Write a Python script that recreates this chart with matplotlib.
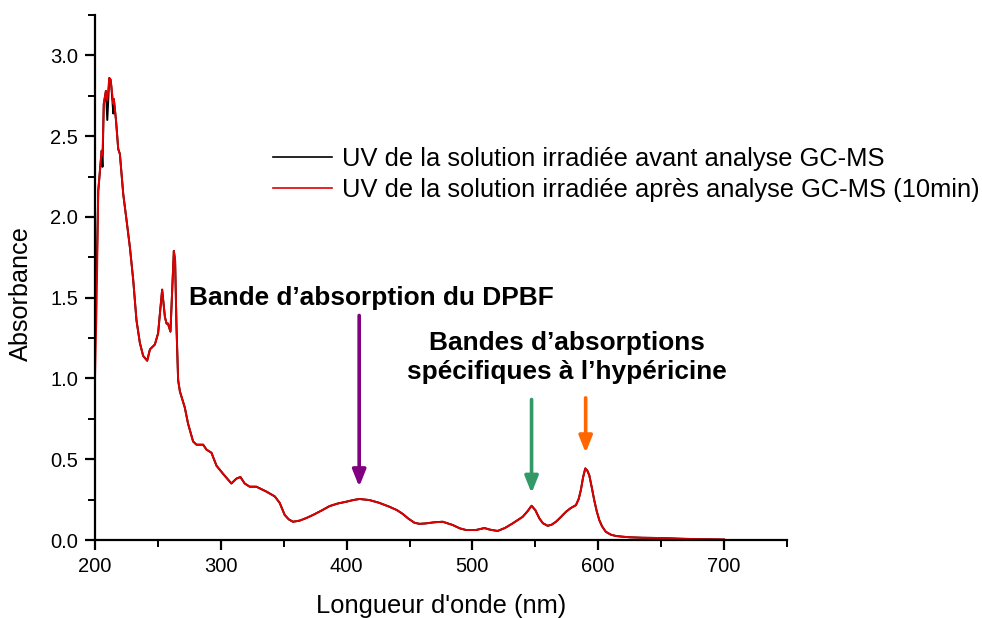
import numpy as np
import matplotlib
matplotlib.use("Agg")
import matplotlib.pyplot as plt
from matplotlib.ticker import MultipleLocator, FormatStrFormatter

plt.rcParams['font.family'] = ['Liberation Sans', 'DejaVu Sans']

# Spectres UV-Vis (nm, absorbance)
wavelength = [200, 201.3, 202.6, 205.3, 206, 207, 208.7, 209.8, 211.4, 212.4,
              213, 214.6, 215, 216.7, 218.5, 219.8, 222.5, 225.1, 227.8, 230.4,
              233, 235.7, 238.3, 241.5, 243.7, 247.6, 250.2, 251.6, 253.4, 255.6,
              256.9, 258, 260, 261.3, 262.7, 263.7, 264.8, 266.1, 267.5, 271.4,
              274, 278, 280.7, 286, 288.6, 292.6, 296.6, 301.8, 308.4, 312.4,
              315.6, 319, 323, 328.3, 336.2, 342.9, 346.8, 350.8, 354, 357.4,
              362.7, 368, 373.3, 380, 386.5, 393, 399.7, 405, 410.3, 418.3,
              426, 434, 440, 444.7, 449, 453.9, 458, 463.2, 470, 476.4,
              484.3, 490, 494.9, 502.9, 509.5, 514, 520, 526, 532, 540,
              544, 547, 550, 553.2, 556, 559.8, 563, 566.4, 570, 574.4,
              578, 582.3, 584.5, 586.2, 588, 589.7, 591.3, 592.9, 595, 596.8,
              598.8, 600.8, 603, 606, 610, 614, 620, 625, 635, 651,
              665, 680, 700]

abs_after = [1.00, 1.45, 2.16, 2.41, 2.38, 2.70, 2.78, 2.72, 2.86, 2.85,
             2.81, 2.70, 2.73, 2.60, 2.42, 2.39, 2.14, 1.98, 1.81, 1.61,
             1.36, 1.22, 1.14, 1.11, 1.18, 1.21, 1.28, 1.40, 1.55, 1.38,
             1.34, 1.34, 1.29, 1.53, 1.79, 1.73, 1.32, 0.99, 0.92, 0.82,
             0.72, 0.61, 0.59, 0.59, 0.56, 0.54, 0.46, 0.41, 0.35, 0.38,
             0.39, 0.35, 0.33, 0.33, 0.30, 0.27, 0.23, 0.155, 0.128, 0.113,
             0.12, 0.136, 0.155, 0.182, 0.21, 0.226, 0.237, 0.247, 0.254, 0.247,
             0.23, 0.206, 0.185, 0.161, 0.133, 0.107, 0.100, 0.103, 0.110, 0.113,
             0.093, 0.072, 0.062, 0.062, 0.074, 0.064, 0.056, 0.075, 0.103, 0.144,
             0.18, 0.212, 0.185, 0.134, 0.104, 0.088, 0.095, 0.113, 0.14, 0.175,
             0.197, 0.216, 0.255, 0.31, 0.39, 0.443, 0.43, 0.40, 0.32, 0.247,
             0.178, 0.124, 0.085, 0.051, 0.033, 0.025, 0.020, 0.017, 0.014, 0.012,
             0.008, 0.005, 0.003]

# le spectre "avant" ne differe que sur les premiers points
abs_before_head = [1.50, 1.63, 2.16, 2.41, 2.31, 2.70, 2.78, 2.60, 2.86, 2.85,
                   2.81, 2.64, 2.73, 2.60]
abs_before = abs_before_head + abs_after[len(abs_before_head):]

band_nm = [410, 547, 590]
band_colors = ['#800080', '#339966', '#ff6600']
arrow_tail = [1.39, 0.87, 0.88]
arrow_tip = [0.33, 0.29, 0.54]

fig = plt.figure(figsize=(9.82, 6.18), dpi=100)
ax = fig.add_axes([0.0967, 0.1262, 0.7047, 0.8495])

ax.plot(wavelength, abs_before, color='black', lw=1.4,
        label='UV de la solution irradiée avant analyse GC-MS')
ax.plot(wavelength, abs_after, color='#e00000', lw=1.4,
        label='UV de la solution irradiée après analyse GC-MS (10min)')

ax.set_xlim(200, 750)
ax.set_ylim(0, 3.25)
ax.xaxis.set_major_locator(MultipleLocator(100))
ax.xaxis.set_minor_locator(MultipleLocator(50))
ax.yaxis.set_major_locator(MultipleLocator(0.5))
ax.yaxis.set_minor_locator(MultipleLocator(0.25))
ax.yaxis.set_major_formatter(FormatStrFormatter('%.1f'))

for side in ['top', 'right']:
    ax.spines[side].set_visible(False)
for side in ['left', 'bottom']:
    ax.spines[side].set_linewidth(1.6)
ax.tick_params(which='major', direction='out', length=7, width=1.6,
               labelsize=14.5, pad=5)
ax.tick_params(which='minor', direction='out', length=5, width=1.4)

ax.set_xlabel("Longueur d'onde (nm)", fontsize=18.4, labelpad=13)
ax.set_ylabel("Absorbance", fontsize=18.2)
ax.yaxis.set_label_coords(-0.09, 0.4686)

leg = fig.legend(loc='upper left', bbox_to_anchor=(273 / 982, 1 - 147 / 618),
                 frameon=False, fontsize=18.35, handlelength=2.3,
                 handletextpad=0.4, labelspacing=0.26, borderpad=0,
                 borderaxespad=0)
for line in leg.get_lines():
    line.set_linewidth(1.2)

# fleches des bandes
for x, c, y0, y1 in zip(band_nm, band_colors, arrow_tail, arrow_tip):
    ax.annotate('', xy=(x, y1), xytext=(x, y0),
                arrowprops=dict(arrowstyle='-|>,head_width=0.4,head_length=1.0',
                                color=c, lw=2.6, shrinkA=0, shrinkB=0))

ax.text(419.8, 1.50, "Bande d’absorption du DPBF", fontsize=18.9,
        fontweight='bold', ha='center', va='center')
ax.text(575.4, 1.13, "Bandes d’absorptions\nspécifiques à l’hypéricine",
        fontsize=18.9, fontweight='bold', ha='center', va='center',
        linespacing=1.25)

fig.savefig('out.png', dpi=100)
